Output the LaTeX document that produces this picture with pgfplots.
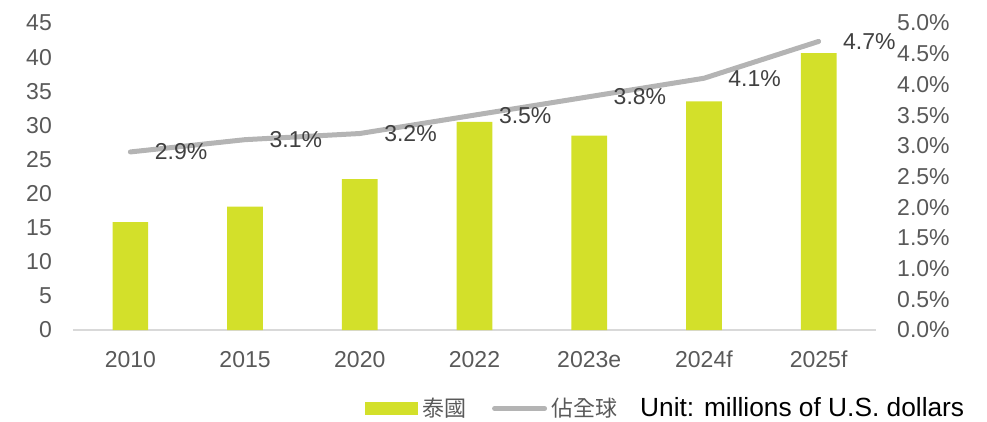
\documentclass[border=0pt]{standalone}
\usepackage{fontspec}
\setmainfont{Liberation Sans}
\newfontfamily\cjk{Noto Sans CJK TC}
\usepackage{pgfplots}
\pgfplotsset{compat=1.18}
\definecolor{barcol}{RGB}{211,224,42}
\definecolor{linecol}{RGB}{180,180,180}
\definecolor{tickcol}{RGB}{89,89,89}
\definecolor{labcol}{RGB}{64,64,64}
\definecolor{axcol}{RGB}{217,217,217}
\begin{document}
\begin{tikzpicture}
\useasboundingbox (0,0) rectangle (987pt,421pt);
\begin{axis}[
  at={(73pt,91pt)}, anchor=south west,
  scale only axis, width=803pt, height=307pt,
  xmin=-0.5, xmax=6.5, ymin=0, ymax=45,
  axis x line*=bottom, axis y line*=left,
  x axis line style={-, draw=axcol, line width=1.5pt},
  y axis line style={draw=none},
  major tick length=0pt,
  xtick={0,...,6}, xticklabels={2010,2015,2020,2022,2023e,2024f,2025f},
  ytick={0,5,10,15,20,25,30,35,40,45},
  tick label style={font=\fontsize{23}{27}\selectfont, text=tickcol, inner sep=0pt},
  xticklabel style={anchor=north, yshift=-21pt},
  yticklabel style={anchor=east, xshift=-21pt},
  /pgf/number format/assume math mode=true,
  clip=false,
]
\addplot[ybar, bar width=35.7pt, fill=barcol, draw=none] coordinates {(0,15.8)(1,18.1)(2,22.1)(3,30.5)(4,28.5)(5,33.5)(6,40.6)};
\end{axis}
\begin{axis}[
  at={(73pt,91pt)}, anchor=south west,
  scale only axis, width=803pt, height=307pt,
  xmin=-0.5, xmax=6.5, ymin=0, ymax=5,
  axis x line=none, axis y line*=right,
  y axis line style={draw=none},
  major tick length=0pt,
  ytick={0,0.5,1,1.5,2,2.5,3,3.5,4,4.5,5},
  yticklabels={0.0\%,0.5\%,1.0\%,1.5\%,2.0\%,2.5\%,3.0\%,3.5\%,4.0\%,4.5\%,5.0\%},
  yticklabel style={anchor=west, xshift=21pt, font=\fontsize{23}{27}\selectfont, text=tickcol, inner sep=0pt},
  clip=false,
  legend columns=2,
  legend cell align=left,
  legend style={at={(0.3636,-0.2557)}, anchor=west, draw=none, fill=none, inner sep=0pt, outer sep=0pt,
    nodes={inner sep=0pt, font=\cjk\fontsize{22}{26}\selectfont, text=tickcol},
    /tikz/column sep=4.7pt,
    /tikz/every even column/.append style={column sep=26pt}},
]
\addlegendimage{legend image code/.code={\fill[barcol] (0pt,-6pt) rectangle (52pt,6pt);}}
\addlegendentry{泰國}
\addplot[linecol, line width=5pt, line cap=round, line join=round, mark=none,
  nodes near coords, point meta=explicit symbolic,
  every node near coord/.append style={anchor=west, xshift=22pt, font=\fontsize{23}{27}\selectfont, text=labcol, inner sep=0pt},
  legend image code/.code={\draw[linecol, line width=5pt, line cap=round] (2.5pt,0pt) -- (52.5pt,0pt);}]
  coordinates {(0,2.9)[2.9\%] (1,3.1)[3.1\%] (2,3.2)[3.2\%] (3,3.5)[3.5\%] (4,3.8)[3.8\%] (5,4.1)[4.1\%] (6,4.7)[4.7\%]};
\addlegendentry{佔全球}
\end{axis}
\node[anchor=west, inner sep=0pt, font=\fontsize{26.3}{30}\selectfont] at (640pt,14pt) {Unit: millions of U.S. dollars};
\end{tikzpicture}
\end{document}
